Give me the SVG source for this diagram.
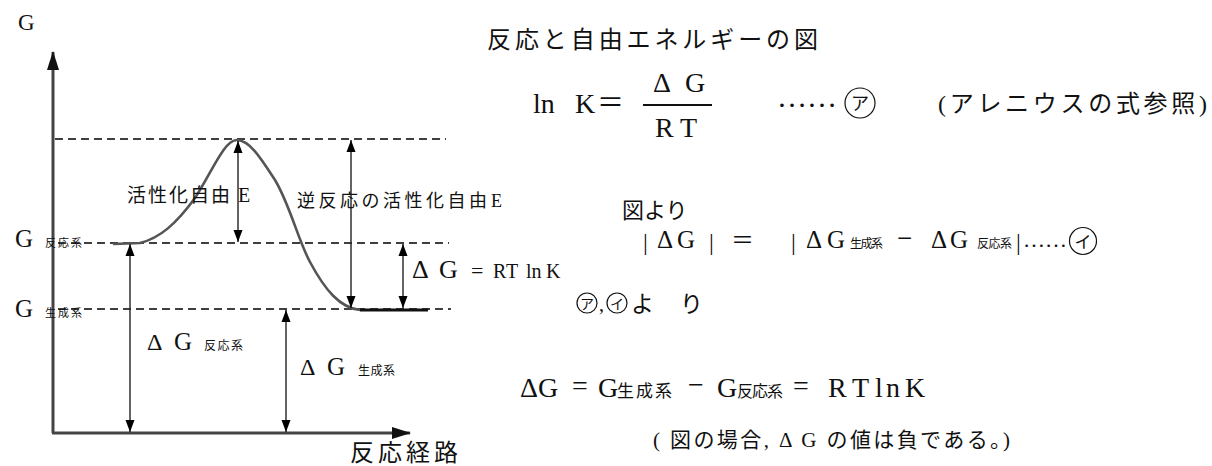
<svg xmlns="http://www.w3.org/2000/svg" width="1212" height="466" viewBox="0 0 1212 466">
<style>
text{font-family:"Liberation Serif","Noto Sans CJK JP",serif;fill:#111}
.cj{font-family:"Noto Sans CJK JP","Liberation Serif",sans-serif}
.dash{stroke:#000;stroke-width:1.6;stroke-dasharray:8 5;fill:none}
.arr{stroke:#222;stroke-width:1.4;fill:none;marker-start:url(#ah);marker-end:url(#ah)}
.axis{stroke:#444;stroke-width:3;fill:none}
.circ{fill:none;stroke:#111;stroke-width:1.2}
</style>
<defs>
<marker id="ah" markerUnits="userSpaceOnUse" markerWidth="12" markerHeight="10" refX="12" refY="5" orient="auto-start-reverse"><path d="M0,0.5 L12,5 L0,9.5 z" fill="#000"/></marker>
<marker id="ax" markerUnits="userSpaceOnUse" markerWidth="20" markerHeight="12" refX="18" refY="6" orient="auto"><path d="M0,0 L19,6 L0,12 z" fill="#111"/></marker>
</defs>
<rect width="1212" height="466" fill="#fff"/>
<g id="axes">
<path class="axis" d="M53,433 L53,52" marker-end="url(#ax)"/>
<path class="axis" d="M52,433 L410,433" marker-end="url(#ax)"/>
<text x="18" y="30" font-size="23">G</text>
<text class="cj" x="350" y="461" font-size="24" textLength="108">反応経路</text>
</g>
<g id="levels">
<line class="dash" x1="55" y1="139" x2="446" y2="139"/>
<line class="dash" x1="58" y1="243" x2="449" y2="243"/>
<line class="dash" x1="58" y1="309" x2="451" y2="309"/>
</g>
<g id="curve">
<path d="M113,244 L140,243 C160,238 176,224 195,198 C212,172 224,140 237,140 C250,140 262,160 275,180 C290,205 298,240 310,262 C325,290 340,308 360,310" fill="none" stroke="#555" stroke-width="2.6"/>
<line x1="360" y1="310" x2="428" y2="310" stroke="#111" stroke-width="3"/>
</g>
<g id="connectors">
<line class="arr" x1="238" y1="141" x2="238" y2="242"/>
<line class="arr" x1="351" y1="140" x2="351" y2="308"/>
<line class="arr" x1="403" y1="244" x2="403" y2="308"/>
<line class="arr" x1="130" y1="244" x2="130" y2="432"/>
<line class="arr" x1="286" y1="310" x2="286" y2="432"/>
</g>
<g id="diagram-labels">
<text x="15" y="247" font-size="25">G</text>
<text class="cj" x="45" y="247" font-size="11" textLength="37">反応系</text>
<text x="15" y="317" font-size="25">G</text>
<text class="cj" x="45" y="317" font-size="11" textLength="37">生成系</text>
<text class="cj" x="127" y="202" font-size="19" textLength="103">活性化自由</text>
<text x="238" y="202" font-size="20">E</text>
<text class="cj" x="297" y="207" font-size="18" textLength="190">逆反応の活性化自由</text>
<text x="491" y="207" font-size="18">E</text>
<text x="412" y="278" font-size="26">Δ</text>
<text x="439" y="278" font-size="26">G</text>
<text x="471" y="278" font-size="22">=</text>
<text x="493" y="278" font-size="20">R</text>
<text x="506" y="278" font-size="20">T</text>
<text x="526" y="278" font-size="20">ln</text>
<text x="546" y="278" font-size="20">K</text>
<text x="147" y="350" font-size="24">Δ</text>
<text x="174" y="350" font-size="25">G</text>
<text class="cj" x="204" y="350" font-size="12" textLength="39">反応系</text>
<text x="300" y="375" font-size="24">Δ</text>
<text x="327" y="375" font-size="25">G</text>
<text class="cj" x="358" y="375" font-size="12" textLength="37">生成系</text>
</g>
<g id="text-right">
<text class="cj" x="487" y="48" font-size="24" textLength="331">反応と自由エネルギーの図</text>
<text x="533" y="113" font-size="28">ln</text>
<text x="575" y="113" font-size="28">K</text>
<text class="cj" x="597" y="112" font-size="27">＝</text>
<text x="653" y="92" font-size="28">Δ</text>
<text x="685" y="92" font-size="28">G</text>
<line x1="643" y1="105" x2="712" y2="105" stroke="#111" stroke-width="2"/>
<text x="655" y="137" font-size="28">R</text>
<text x="680" y="137" font-size="28">T</text>
<text x="777" y="107" font-size="30">……</text>
<circle class="circ" cx="860" cy="103" r="15"/>
<text class="cj" x="860" y="110" font-size="18" text-anchor="middle">ア</text>
<text x="938" y="112" font-size="24" textLength="269">(アレニウスの式参照)</text>
<text class="cj" x="622" y="218" font-size="22">図より</text>
<text x="643" y="250" font-size="24">|</text>
<text x="657" y="248" font-size="25">Δ</text>
<text x="677" y="248" font-size="25">G</text>
<text x="709" y="250" font-size="24">|</text>
<text class="cj" x="731" y="248" font-size="23">＝</text>
<text x="791" y="250" font-size="24">|</text>
<text x="806" y="248" font-size="25">Δ</text>
<text x="827" y="248" font-size="25">G</text>
<text class="cj" x="850" y="248" font-size="12" textLength="33">生成系</text>
<text x="897" y="247" font-size="27">−</text>
<text x="931" y="248" font-size="25">Δ</text>
<text x="950" y="248" font-size="25">G</text>
<text class="cj" x="977" y="248" font-size="12" textLength="35">反応系</text>
<text x="1016" y="250" font-size="24">|</text>
<text x="1023" y="247" font-size="22">……</text>
<circle class="circ" cx="1083" cy="241" r="13.5"/>
<text class="cj" x="1083" y="248" font-size="17" text-anchor="middle">イ</text>
<circle class="circ" cx="587" cy="303" r="10"/>
<text class="cj" x="587" y="309" font-size="14" text-anchor="middle">ア</text>
<text x="599" y="311" font-size="20">,</text>
<circle class="circ" cx="617" cy="303" r="10"/>
<text class="cj" x="617" y="309" font-size="14" text-anchor="middle">イ</text>
<text class="cj" x="631" y="312" font-size="23" textLength="72">より</text>
<text x="520" y="397" font-size="28">Δ</text>
<text x="538" y="397" font-size="28">G</text>
<text x="572" y="395" font-size="28">=</text>
<text x="598" y="397" font-size="28">G</text>
<text class="cj" x="617" y="397" font-size="17" textLength="55">生成系</text>
<text x="688" y="394" font-size="28">−</text>
<text x="717" y="397" font-size="28">G</text>
<text class="cj" x="737" y="397" font-size="16" textLength="46">反応系</text>
<text x="793" y="395" font-size="28">=</text>
<text x="828" y="397" font-size="28">R</text>
<text x="852" y="397" font-size="28">T</text>
<text x="875" y="397" font-size="28" textLength="25">ln</text>
<text x="905" y="397" font-size="28">K</text>
<text x="653" y="447" font-size="21" textLength="357">( 図の場合, Δ G の値は負である。)</text>
</g>
</svg>
